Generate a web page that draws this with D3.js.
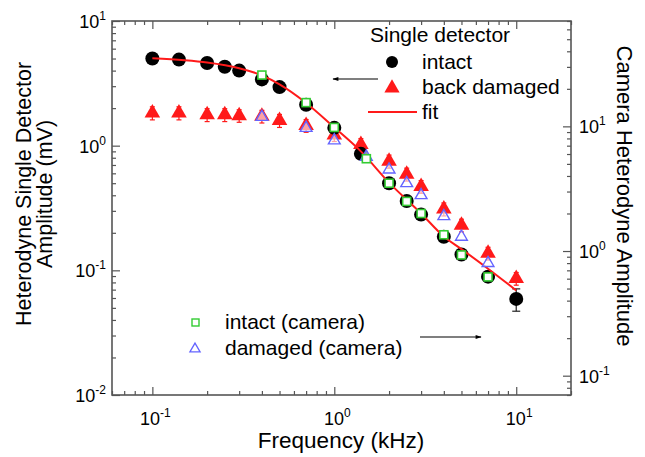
<!DOCTYPE html>
<html>
<head>
<meta charset="utf-8">
<script src="https://cdn.jsdelivr.net/npm/d3@7"></script>
<style>
  body { margin: 0; background: #fff; }
  text { font-family: "Liberation Sans", Arial, sans-serif; fill: #000; }
</style>
</head>
<body>
<svg id="chart" width="645" height="457"></svg>
<script>
// single detector data (left axis, mV)
const freqDet = [0.1, 0.14, 0.2, 0.25, 0.3, 0.4, 0.5, 0.7, 1, 1.4, 2, 2.5, 3, 4, 5, 7, 10];
const intact = [5.0, 4.9, 4.6, 4.3, 4.0, 3.4, 2.95, 2.13, 1.39, 0.86, 0.50, 0.36, 0.28, 0.186, 0.134, 0.089, 0.059];
const intactErr = [0, 0, 0, 0, 0, 0, 0, 0, 0, 0, 0, 0, 0, 0, 0, 0.008, 0.012];
const damaged = [1.83, 1.83, 1.77, 1.77, 1.74, 1.72, 1.59, 1.45, 1.22, 1.02, 0.75, 0.59, 0.47, 0.31, 0.23, 0.137, 0.086];
const damagedErr = [0.22, 0.22, 0.21, 0.21, 0.2, 0.2, 0.19, 0.17, 0.14, 0.12, 0.09, 0.07, 0.055, 0.037, 0.027, 0.016, 0.01];

// fit curve
const fitFreq = [0.1, 0.15, 0.2, 0.3, 0.4, 0.5, 0.7, 1, 1.4, 2, 3, 4, 5, 7, 10];
const fitVal = [5.03, 4.85, 4.65, 4.18, 3.66, 3.1, 2.2, 1.4, 0.9, 0.505, 0.286, 0.187, 0.148, 0.103, 0.069];

// camera data (right axis)
const freqCam = [0.4, 0.7, 1, 1.5, 2, 2.5, 3, 4, 5, 7];
const camIntact = [25.8, 15.5, 9.8, 5.5, 3.5, 2.5, 2.0, 1.35, 0.93, 0.62];
const camDamaged = [11.9, 9.7, 7.7, 5.7, 4.5, 3.5, 2.8, 1.9, 1.3, 0.80];

const xDomain = [0.06, 20];
const yLeftDomain = [0.01, 10];
const yRightDomain = [0.07, 70];
const xMajor = [0.1, 1, 10];
const yLeftMajor = [0.01, 0.1, 1, 10];
const yRightMajor = [0.1, 1, 10];

const plot = {left: 112, right: 571, top: 21, bottom: 395};
const svg = d3.select("#chart");

const x = d3.scaleLog().domain(xDomain).range([plot.left, plot.right]);
const yL = d3.scaleLog().domain(yLeftDomain).range([plot.bottom, plot.top]);
const yR = d3.scaleLog().domain(yRightDomain).range([plot.bottom, plot.top]);

/**
 * Minor tick values (2..9 per decade) inside a domain
 */
function minorTicks(scale) {
    return scale.ticks().filter(v => {
        const m = v / Math.pow(10, Math.floor(Math.log10(v) + 1e-9));
        return Math.abs(m - 1) > 1e-6;
    });
}

const axisColor = "#555";

function drawAxis(axisFn, scale, tx, ty) {
    const minor = minorTicks(scale);
    const g1 = svg.append("g").attr("transform", `translate(${tx},${ty})`)
        .call(axisFn(scale).tickValues(minor).tickSize(-4).tickFormat(""));
    const g2 = svg.append("g").attr("transform", `translate(${tx},${ty})`)
        .call(axisFn(scale).tickValues(scale.ticks().filter(v => !minor.includes(v))).tickSize(-8).tickFormat(""));
    [g1, g2].forEach(g => {
        g.select(".domain").remove();
        g.selectAll("line").attr("stroke", axisColor).attr("stroke-width", 1.2);
    });
}

drawAxis(d3.axisBottom, x, 0, plot.bottom);
drawAxis(d3.axisTop, x, 0, plot.top);
drawAxis(d3.axisLeft, yL, plot.left, 0);
drawAxis(d3.axisRight, yR, plot.right, 0);

svg.append("rect")
    .attr("x", plot.left).attr("y", plot.top)
    .attr("width", plot.right - plot.left).attr("height", plot.bottom - plot.top)
    .attr("fill", "none").attr("stroke", axisColor).attr("stroke-width", 1.6);

// power-of-ten label with superscript
function powLabel(sel, v) {
    const e = Math.round(Math.log10(v));
    sel.append("tspan").text("10");
    sel.append("tspan").attr("font-size", 12).attr("dy", -8).text(e);
}

xMajor.forEach(v => {
    const t = svg.append("text").attr("x", x(v) + 3).attr("y", 425)
        .attr("font-size", 18).attr("text-anchor", "middle");
    powLabel(t, v);
});
yLeftMajor.forEach(v => {
    const t = svg.append("text").attr("x", 106).attr("y", yL(v) + 7)
        .attr("font-size", 18).attr("text-anchor", "end");
    powLabel(t, v);
});
yRightMajor.forEach(v => {
    const t = svg.append("text").attr("x", 579).attr("y", yR(v) + 7)
        .attr("font-size", 18).attr("text-anchor", "start");
    powLabel(t, v);
});

// axis titles
svg.append("text").attr("x", 341).attr("y", 448).attr("font-size", 22.5)
    .attr("text-anchor", "middle").text("Frequency (kHz)");
svg.append("text").attr("transform", "translate(31,194) rotate(-90)")
    .attr("font-size", 21.5).attr("text-anchor", "middle").text("Heterodyne Single Detector");
svg.append("text").attr("transform", "translate(52,194) rotate(-90)")
    .attr("font-size", 21.5).attr("text-anchor", "middle").text("Amplitude (mV)");
svg.append("text").attr("transform", "translate(617,196) rotate(90)")
    .attr("font-size", 22).attr("text-anchor", "middle").text("Camera Heterodyne Amplitude");

const detData = freqDet.map((f, i) => ({f, a: intact[i], ae: intactErr[i], d: damaged[i], de: damagedErr[i]}));
const camData = freqCam.map((f, i) => ({f, a: camIntact[i], d: camDamaged[i]}));

const red = "#ff1a1a";
const tri = d3.symbol().type(d3.symbolTriangle);

// error bars
function errBars(data, key, errKey, color, cap) {
    const g = svg.append("g").attr("stroke", color).attr("stroke-width", 1.2);
    data.filter(d => d[errKey] > 0).forEach(d => {
        const cx = x(d.f), y1 = yL(d[key] - d[errKey]), y2 = yL(d[key] + d[errKey]);
        g.append("line").attr("x1", cx).attr("x2", cx).attr("y1", y1).attr("y2", y2);
        g.append("line").attr("x1", cx - cap).attr("x2", cx + cap).attr("y1", y1).attr("y2", y1);
        g.append("line").attr("x1", cx - cap).attr("x2", cx + cap).attr("y1", y2).attr("y2", y2);
    });
}
errBars(detData, "d", "de", red, 2.5);
errBars(detData, "a", "ae", "#222", 4);

svg.append("g").selectAll("path").data(detData).join("path")
    .attr("d", tri.size(105)())
    .attr("transform", d => `translate(${x(d.f)},${yL(d.d)})`)
    .attr("fill", red);

svg.append("g").selectAll("circle").data(detData).join("circle")
    .attr("cx", d => x(d.f)).attr("cy", d => yL(d.a)).attr("r", 7)
    .attr("fill", "#000");

// fit line
svg.append("path")
    .datum(fitFreq.map((f, i) => [f, fitVal[i]]))
    .attr("d", d3.line().x(d => x(d[0])).y(d => yL(d[1])).curve(d3.curveMonotoneX))
    .attr("fill", "none").attr("stroke", red).attr("stroke-width", 2);

// camera markers
svg.append("g").selectAll("path").data(camData).join("path")
    .attr("d", tri.size(60)())
    .attr("transform", d => `translate(${x(d.f)},${yR(d.d)})`)
    .attr("fill", "#fff").attr("fill-opacity", 0.6)
    .attr("stroke", "#6464ff").attr("stroke-width", 1.4);

svg.append("g").selectAll("rect").data(camData).join("rect")
    .attr("x", d => x(d.f) - 4).attr("y", d => yR(d.a) - 4)
    .attr("width", 8).attr("height", 8)
    .attr("fill", "#fff").attr("stroke", "#33cc33").attr("stroke-width", 1.6);

// legend, single detector
svg.append("text").attr("x", 370).attr("y", 42).attr("font-size", 21).text("Single detector");
svg.append("circle").attr("cx", 392).attr("cy", 62).attr("r", 6).attr("fill", "#000");
svg.append("text").attr("x", 422).attr("y", 69).attr("font-size", 21).text("intact");
svg.append("path").attr("d", tri.size(100)()).attr("transform", "translate(392,88)").attr("fill", red);
svg.append("text").attr("x", 422).attr("y", 94).attr("font-size", 21).text("back damaged");
svg.append("line").attr("x1", 368).attr("x2", 417).attr("y1", 112).attr("y2", 112)
    .attr("stroke", red).attr("stroke-width", 2);
svg.append("text").attr("x", 422).attr("y", 119).attr("font-size", 21).text("fit");

// legend, camera
svg.append("rect").attr("x", 192).attr("y", 319).attr("width", 7).attr("height", 7)
    .attr("fill", "#fff").attr("stroke", "#33cc33").attr("stroke-width", 1.4);
svg.append("text").attr("x", 225).attr("y", 329).attr("font-size", 21).text("intact (camera)");
svg.append("path").attr("d", tri.size(45)()).attr("transform", "translate(195,349)")
    .attr("fill", "#fff").attr("stroke", "#6464ff").attr("stroke-width", 1.3);
svg.append("text").attr("x", 225).attr("y", 355).attr("font-size", 21).text("damaged (camera)");

// arrows
svg.append("defs").append("marker")
    .attr("id", "head").attr("viewBox", "0 0 10 10").attr("refX", 9).attr("refY", 5)
    .attr("markerWidth", 8).attr("markerHeight", 5).attr("orient", "auto-start-reverse")
    .append("path").attr("d", "M0,1.5L10,5L0,8.5Z").attr("fill", "#000");
svg.append("line").attr("x1", 378).attr("x2", 333).attr("y1", 79).attr("y2", 79)
    .attr("stroke", "#000").attr("stroke-width", 1.2).attr("marker-end", "url(#head)");
svg.append("line").attr("x1", 420).attr("x2", 481).attr("y1", 337).attr("y2", 337)
    .attr("stroke", "#000").attr("stroke-width", 1.2).attr("marker-end", "url(#head)");
</script>
</body>
</html>
